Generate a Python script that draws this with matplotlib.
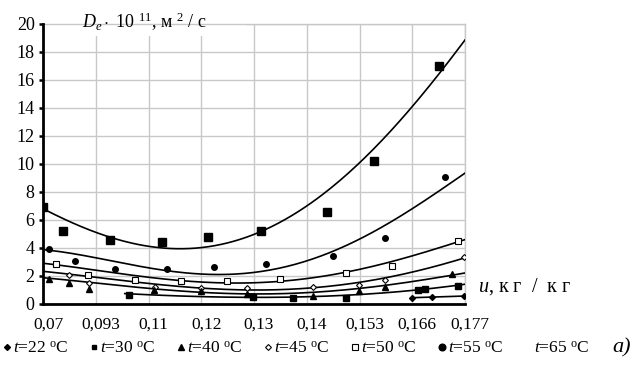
import matplotlib
matplotlib.use("Agg")
import matplotlib.pyplot as plt
import matplotlib.transforms as mtransforms
from matplotlib.lines import Line2D
from matplotlib.patches import Rectangle
import numpy as np

plt.rcParams["font.family"] = ["Liberation Serif", "DejaVu Sans"]
plt.rcParams["mathtext.fontset"] = "custom"
plt.rcParams["mathtext.rm"] = "Liberation Serif"
plt.rcParams["mathtext.it"] = "Liberation Serif:italic"

# x axis categories (equally spaced positions 0..8)
u_labels = ["0,07", "0,093", "0,11", "0,12", "0,13", "0,14", "0,153", "0,166", "0,177"]
grid_pos = [0, 1, 2, 3, 4, 5, 6, 7, 8]

# measured points (x in axis position units, y = De*1e11)
t65_x = [0.0, 0.38, 1.27, 2.26, 3.13, 4.13, 5.38, 6.27, 7.51]
t65_y = [6.9, 5.2, 4.6, 4.45, 4.8, 5.2, 6.6, 10.2, 17.0]
t55_x = [0.11, 0.61, 1.36, 2.35, 3.24, 4.23, 5.5, 6.48, 7.62]
t55_y = [3.9, 3.05, 2.5, 2.5, 2.65, 2.85, 3.45, 4.7, 9.1]
t50_x = [0.25, 0.85, 1.74, 2.62, 3.49, 4.49, 5.74, 6.62, 7.87]
t50_y = [2.85, 2.07, 1.7, 1.63, 1.63, 1.77, 2.2, 2.7, 4.5]
t45_x = [0.49, 0.87, 2.12, 3.0, 3.87, 5.12, 5.99, 6.48, 7.98]
t45_y = [2.07, 1.5, 1.2, 1.14, 1.14, 1.2, 1.36, 1.7, 3.36]
t40_x = [0.11, 0.49, 0.87, 2.1, 3.0, 3.87, 5.12, 5.99, 6.48, 7.75]
t40_y = [1.8, 1.5, 1.07, 1.0, 0.93, 0.7, 0.57, 0.93, 1.2, 2.14]
t30_x = [1.63, 3.98, 4.74, 5.74, 7.11, 7.24, 7.87]
t30_y = [0.64, 0.5, 0.43, 0.43, 1.0, 1.1, 1.3]
t22_x = [7.0, 7.37, 7.98]
t22_y = [0.45, 0.5, 0.57]

# trend curves read at grid lines
t65_fit = [6.75, 5.3, 4.0, 3.95, 5.0, 7.1, 10.1, 14.0, 18.9]
t55_fit = [3.88, 3.3, 2.6, 2.1, 2.3, 3.05, 4.65, 6.8, 9.35]
t50_fit = [2.9, 2.45, 1.9, 1.5, 1.6, 1.8, 2.45, 3.45, 4.6]
t45_fit = [2.32, 1.95, 1.45, 1.07, 1.07, 1.14, 1.5, 2.3, 3.3]
t40_fit = [1.88, 1.5, 1.12, 0.8, 0.78, 0.8, 1.05, 1.66, 2.2]
t30_fit_x = [1.55, 2, 3, 4, 5, 6, 7, 8]
t30_fit = [0.72, 0.7, 0.5, 0.5, 0.5, 0.66, 1.0, 1.4]
t22_fit_x = [7, 8]
t22_fit = [0.45, 0.57]

legend_labels = ["22", "30", "40", "45", "50", "55", "65"]

fig = plt.figure(figsize=(6.39, 3.67), dpi=100)
ax = fig.add_axes([43 / 639, 1 - 304 / 367, 422 / 639, 280 / 367])
ax.set_xlim(0, 8)
ax.set_ylim(0, 20)


def trend(xs, ys, deg):
    c = np.polyfit(xs, ys, deg)
    xx = np.linspace(xs[0], xs[-1], 200)
    ax.plot(xx, np.polyval(c, xx), color="black", lw=1.2, zorder=3)


trend(grid_pos, t65_fit, 4)
trend(grid_pos, t55_fit, 4)
trend(grid_pos, t50_fit, 4)
trend(grid_pos, t45_fit, 4)
trend(grid_pos, t40_fit, 4)
trend(t30_fit_x, t30_fit, 3)
trend(t22_fit_x, t22_fit, 1)

ax.plot(t65_x, t65_y, "s", color="black", ms=6.2, ls="none", zorder=4)
ax.plot(t55_x, t55_y, "o", color="black", ms=4.0, ls="none", zorder=4)
ax.plot(t50_x, t50_y, "s", mfc="white", mec="black", mew=0.8, ms=3.8, ls="none", zorder=4)
ax.plot(t45_x, t45_y, "D", mfc="white", mec="black", mew=0.8, ms=3.0, ls="none", zorder=4)
ax.plot(t40_x, t40_y, "^", color="black", ms=3.8, ls="none", zorder=4)
ax.plot(t30_x, t30_y, "s", color="black", ms=3.8, ls="none", zorder=4)
ax.plot(t22_x, t22_y, "D", color="black", ms=3.0, ls="none", zorder=4)

# axes styling
ax.set_yticks(range(0, 21, 2))
ax.set_xticks(grid_pos)
ax.set_xticklabels(u_labels, fontsize=12.5)
ax.tick_params(axis="x", length=0, pad=9)
ax.tick_params(axis="y", length=3, width=1.8, direction="out", labelsize=13, pad=3)
shift = mtransforms.ScaledTranslation(5 / 100, 0, fig.dpi_scale_trans)
for lab in ax.get_xticklabels():
    lab.set_transform(lab.get_transform() + shift)
ax.set_xticks([7, 8], minor=True)
ax.tick_params(axis="x", which="minor", length=4, width=1.5, direction="out")
ax.grid(True, color="#c8c8c8", lw=1.0, zorder=0)
ax.set_axisbelow(True)
for s in ["left", "bottom"]:
    ax.spines[s].set_linewidth(2)
    ax.spines[s].set_color("black")
    ax.spines[s].set_zorder(5)
for s in ["top", "right"]:
    ax.spines[s].set_color("#c8c8c8")
    ax.spines[s].set_linewidth(1.0)

# white box behind the y title
ax.add_patch(Rectangle((0.004, 0.957), 0.477, 0.1, transform=ax.transAxes,
                       facecolor="white", edgecolor="none", clip_on=False, zorder=2.5))
fig.text(82 / 639, 1 - 22 / 367, r"$D_e\cdot$ 10 $^{11}$, м $^{2}$ / с",
         fontsize=13, va="center", ha="left")
fig.text(478 / 639, 1 - 287 / 367, r"$u$, к г  /  к г", fontsize=14.5,
         va="center", ha="left")

handles = [
    Line2D([], [], marker="D", color="black", ms=3.0, ls="none"),
    Line2D([], [], marker="s", color="black", ms=3.4, ls="none"),
    Line2D([], [], marker="^", color="black", ms=3.8, ls="none"),
    Line2D([], [], marker="D", mfc="white", mec="black", mew=0.8, ms=3.0, ls="none"),
    Line2D([], [], marker="s", mfc="white", mec="black", mew=0.8, ms=3.8, ls="none"),
    Line2D([], [], marker="o", color="black", ms=4.8, ls="none"),
    Line2D([], [], marker="none", ls="none"),
]
labels = [r"$t$=" + v + r" $^{\rm o}$C" for v in legend_labels]
fig.legend(handles, labels, loc="center left", bbox_to_anchor=(3 / 639, 1 - 349 / 367),
           ncol=7, frameon=False, fontsize=12.5, handlelength=0.5, handletextpad=0.1,
           columnspacing=1.2, borderaxespad=0, borderpad=0)
fig.text(612 / 639, 1 - 348 / 367, "a)", fontsize=16, style="italic",
         va="center", ha="left")

fig.savefig("out.png", dpi=100)
